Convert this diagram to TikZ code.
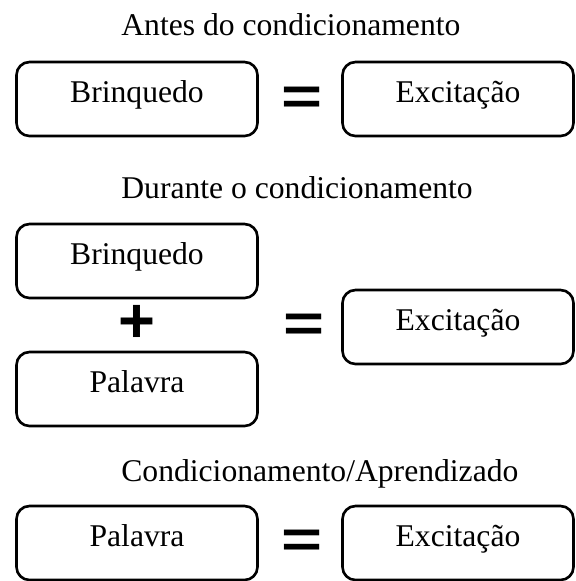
\documentclass[tikz,border=0pt]{standalone}
\usepackage{fontspec}
\setmainfont{Liberation Serif}
\newfontfamily\simbolo{Liberation Sans}
\usepackage{tikz}
\usetikzlibrary{positioning}

\tikzset{
	caixa/.style={draw, line width=1.5pt, rounded corners=0.26cm, minimum height=1.48cm, inner sep=0pt, text height=0.50cm, text depth=0.36cm, font=\fontsize{18}{22}\selectfont},
	esq/.style={caixa, minimum width=4.82cm},
	dir/.style={caixa, minimum width=4.62cm},
	titulo/.style={anchor=base west, inner sep=0pt, font=\fontsize{18}{22}\selectfont},
	igual/.style={inner sep=0pt, yscale=0.75, transform shape, font=\simbolo\bfseries\fontsize{40}{40}\selectfont},
	mais/.style={inner sep=0pt, font=\simbolo\bfseries\fontsize{36}{36}\selectfont},
}

\begin{document}
\begin{tikzpicture}
	\useasboundingbox (0,0) rectangle (11.52,-11.62);
	
	% antes
	\node[titulo] (t1) at (2.42,-0.70) {Antes do condicionamento};
	\node[esq] (b1) at (2.74,-1.98) {Brinquedo};
	\node[dir] (e1) at (9.16,-1.98) {Excitação};
	\node[igual] (eq1) at (6.04,-2.01) {=};
	
	% durante
	\node[titulo] (t2) at (2.42,-3.96) {Durante o condicionamento};
	\node[esq] (b2) at (2.74,-5.22) {Brinquedo};
	\node[mais] (m2) at (2.74,-6.48) {+};
	\node[esq] (p2) at (2.74,-7.78) {Palavra};
	\node[dir] (e2) at (9.16,-6.54) {Excitação};
	\node[igual] (eq2) at (6.08,-6.55) {=};
	
	% depois
	\node[titulo] (t3) at (2.42,-9.62) {Condicionamento/Aprendizado};
	\node[esq] (p3) at (2.74,-10.86) {Palavra};
	\node[dir] (e3) at (9.16,-10.86) {Excitação};
	\node[igual] (eq3) at (6.04,-10.88) {=};
\end{tikzpicture}
\end{document}
